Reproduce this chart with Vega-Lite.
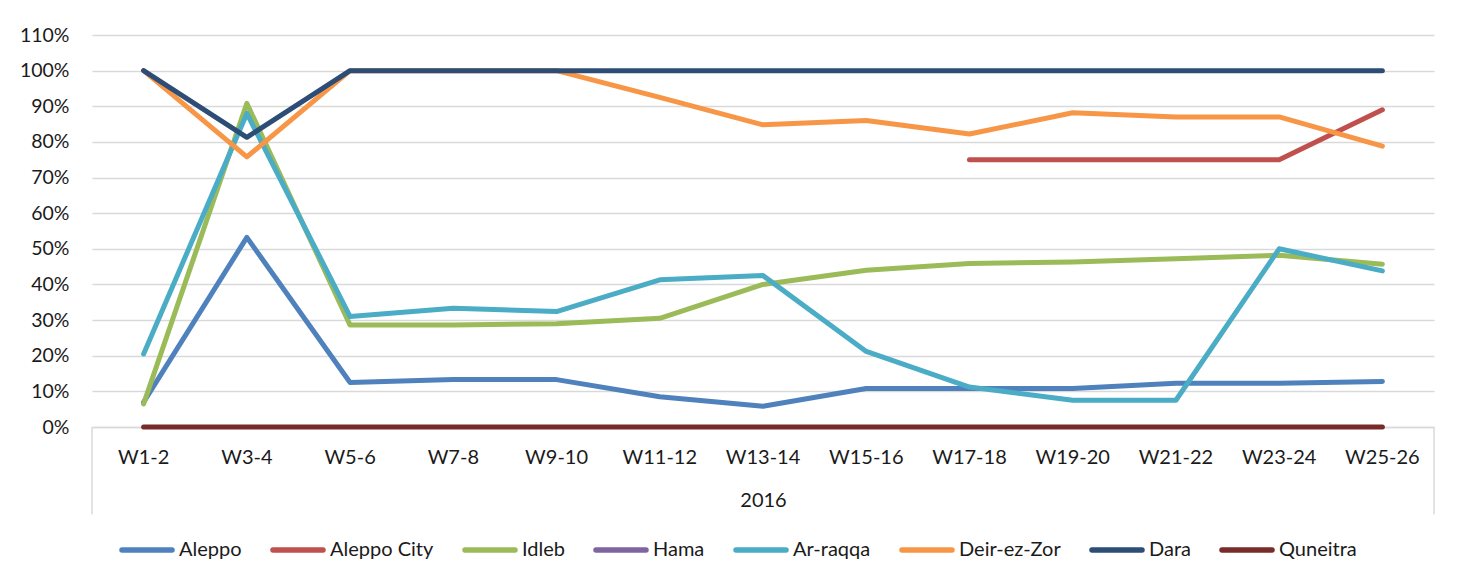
{
  "$schema": "https://vega.github.io/schema/vega-lite/v6.json",
  "autosize": "none",
  "width": 1342,
  "height": 392,
  "padding": {"left": 92, "top": 35, "right": 32, "bottom": 150},
  "background": "white",
  "config": {
    "font": "Lato",
    "view": {"stroke": null},
    "axis": {"labelFont": "Lato", "titleFont": "Lato", "labelColor": "#1a1a1a", "titleColor": "#1a1a1a"},
    "axisX": {"labelFontSize": 20, "titleFontSize": 20, "titleFontWeight": "normal", "labelPadding": 20, "titlePadding": 23, "ticks": false, "tickSize": 0, "domainColor": "#d9d9d9", "domainWidth": 1.5, "labelOverlap": false, "labelAngle": 0, "bandPosition": 0.5, "grid": false},
    "axisY": {"labelFontSize": 19.5, "labelPadding": 23, "ticks": false, "tickSize": 0, "domain": false, "gridColor": "#d9d9d9", "gridWidth": 1.5, "labelOverlap": false, "labelFlush": false, "tickCount": 12},
    "legend": {"labelFont": "Lato"}
  },
  "data": {"values": [
    {"w": "W1-2", "s": "Aleppo", "v": 0.07}, {"w": "W3-4", "s": "Aleppo", "v": 0.532}, {"w": "W5-6", "s": "Aleppo", "v": 0.125}, {"w": "W7-8", "s": "Aleppo", "v": 0.133}, {"w": "W9-10", "s": "Aleppo", "v": 0.133}, {"w": "W11-12", "s": "Aleppo", "v": 0.085}, {"w": "W13-14", "s": "Aleppo", "v": 0.058}, {"w": "W15-16", "s": "Aleppo", "v": 0.108}, {"w": "W17-18", "s": "Aleppo", "v": 0.108}, {"w": "W19-20", "s": "Aleppo", "v": 0.108}, {"w": "W21-22", "s": "Aleppo", "v": 0.123}, {"w": "W23-24", "s": "Aleppo", "v": 0.123}, {"w": "W25-26", "s": "Aleppo", "v": 0.128},
    {"w": "W17-18", "s": "Aleppo City", "v": 0.75}, {"w": "W19-20", "s": "Aleppo City", "v": 0.75}, {"w": "W21-22", "s": "Aleppo City", "v": 0.75}, {"w": "W23-24", "s": "Aleppo City", "v": 0.75}, {"w": "W25-26", "s": "Aleppo City", "v": 0.89},
    {"w": "W1-2", "s": "Idleb", "v": 0.065}, {"w": "W3-4", "s": "Idleb", "v": 0.908}, {"w": "W5-6", "s": "Idleb", "v": 0.286}, {"w": "W7-8", "s": "Idleb", "v": 0.286}, {"w": "W9-10", "s": "Idleb", "v": 0.29}, {"w": "W11-12", "s": "Idleb", "v": 0.305}, {"w": "W13-14", "s": "Idleb", "v": 0.4}, {"w": "W15-16", "s": "Idleb", "v": 0.44}, {"w": "W17-18", "s": "Idleb", "v": 0.459}, {"w": "W19-20", "s": "Idleb", "v": 0.463}, {"w": "W21-22", "s": "Idleb", "v": 0.472}, {"w": "W23-24", "s": "Idleb", "v": 0.482}, {"w": "W25-26", "s": "Idleb", "v": 0.457},
    {"w": "W1-2", "s": "Ar-raqqa", "v": 0.205}, {"w": "W3-4", "s": "Ar-raqqa", "v": 0.88}, {"w": "W5-6", "s": "Ar-raqqa", "v": 0.31}, {"w": "W7-8", "s": "Ar-raqqa", "v": 0.333}, {"w": "W9-10", "s": "Ar-raqqa", "v": 0.324}, {"w": "W11-12", "s": "Ar-raqqa", "v": 0.413}, {"w": "W13-14", "s": "Ar-raqqa", "v": 0.425}, {"w": "W15-16", "s": "Ar-raqqa", "v": 0.212}, {"w": "W17-18", "s": "Ar-raqqa", "v": 0.112}, {"w": "W19-20", "s": "Ar-raqqa", "v": 0.075}, {"w": "W21-22", "s": "Ar-raqqa", "v": 0.075}, {"w": "W23-24", "s": "Ar-raqqa", "v": 0.5}, {"w": "W25-26", "s": "Ar-raqqa", "v": 0.438},
    {"w": "W1-2", "s": "Deir-ez-Zor", "v": 1.0}, {"w": "W3-4", "s": "Deir-ez-Zor", "v": 0.758}, {"w": "W5-6", "s": "Deir-ez-Zor", "v": 1.0}, {"w": "W7-8", "s": "Deir-ez-Zor", "v": 1.0}, {"w": "W9-10", "s": "Deir-ez-Zor", "v": 1.0}, {"w": "W11-12", "s": "Deir-ez-Zor", "v": 0.925}, {"w": "W13-14", "s": "Deir-ez-Zor", "v": 0.848}, {"w": "W15-16", "s": "Deir-ez-Zor", "v": 0.86}, {"w": "W17-18", "s": "Deir-ez-Zor", "v": 0.822}, {"w": "W19-20", "s": "Deir-ez-Zor", "v": 0.882}, {"w": "W21-22", "s": "Deir-ez-Zor", "v": 0.87}, {"w": "W23-24", "s": "Deir-ez-Zor", "v": 0.87}, {"w": "W25-26", "s": "Deir-ez-Zor", "v": 0.788},
    {"w": "W1-2", "s": "Dara", "v": 1.0}, {"w": "W3-4", "s": "Dara", "v": 0.813}, {"w": "W5-6", "s": "Dara", "v": 1.0}, {"w": "W7-8", "s": "Dara", "v": 1.0}, {"w": "W9-10", "s": "Dara", "v": 1.0}, {"w": "W11-12", "s": "Dara", "v": 1.0}, {"w": "W13-14", "s": "Dara", "v": 1.0}, {"w": "W15-16", "s": "Dara", "v": 1.0}, {"w": "W17-18", "s": "Dara", "v": 1.0}, {"w": "W19-20", "s": "Dara", "v": 1.0}, {"w": "W21-22", "s": "Dara", "v": 1.0}, {"w": "W23-24", "s": "Dara", "v": 1.0}, {"w": "W25-26", "s": "Dara", "v": 1.0},
    {"w": "W1-2", "s": "Quneitra", "v": 0}, {"w": "W3-4", "s": "Quneitra", "v": 0}, {"w": "W5-6", "s": "Quneitra", "v": 0}, {"w": "W7-8", "s": "Quneitra", "v": 0}, {"w": "W9-10", "s": "Quneitra", "v": 0}, {"w": "W11-12", "s": "Quneitra", "v": 0}, {"w": "W13-14", "s": "Quneitra", "v": 0}, {"w": "W15-16", "s": "Quneitra", "v": 0}, {"w": "W17-18", "s": "Quneitra", "v": 0}, {"w": "W19-20", "s": "Quneitra", "v": 0}, {"w": "W21-22", "s": "Quneitra", "v": 0}, {"w": "W23-24", "s": "Quneitra", "v": 0}, {"w": "W25-26", "s": "Quneitra", "v": 0}
  ]},
  "layer": [
    {
      "mark": {"type": "line", "strokeWidth": 5, "strokeCap": "round", "strokeJoin": "round", "clip": false},
      "encoding": {
        "x": {
          "field": "w", "type": "ordinal",
          "scale": {"type": "band", "paddingInner": 0, "paddingOuter": 0, "domain": ["W1-2", "W3-4", "W5-6", "W7-8", "W9-10", "W11-12", "W13-14", "W15-16", "W17-18", "W19-20", "W21-22", "W23-24", "W25-26"]},
          "axis": {"title": "2016", "bandPosition": 0.5, "labelPadding": 20, "labelFontSize": 20}
        },
        "y": {
          "field": "v", "type": "quantitative",
          "scale": {"domain": [0, 1.1], "nice": false},
          "axis": {"title": null, "format": ".0%", "values": [0, 0.1, 0.2, 0.3, 0.4, 0.5, 0.6, 0.7, 0.8, 0.9, 1.0, 1.1], "tickCount": 12}
        },
        "color": {
          "field": "s", "type": "nominal",
          "scale": {
            "domain": ["Aleppo", "Aleppo City", "Idleb", "Hama", "Ar-raqqa", "Deir-ez-Zor", "Dara", "Quneitra"],
            "range": ["#4f81bd", "#c0504d", "#9bbb59", "#8064a2", "#4bacc6", "#f79646", "#2c4d75", "#772c2a"]
          },
          "legend": {
            "title": null, "orient": "none", "direction": "horizontal", "columns": 8, "legendX": 27, "legendY": 487,
            "symbolType": "stroke", "symbolSize": 2500, "symbolStrokeWidth": 5.5, "labelFontSize": 20, "labelColor": "#1a1a1a", "labelOffset": 4, "columnPadding": 20,
            "encode": {"symbols": {"update": {"strokeCap": {"value": "round"}}}}
          }
        }
      }
    },
    {
      "data": {"values": [{}]},
      "mark": {"type": "rule", "color": "#d9d9d9", "strokeWidth": 1.5, "clip": false},
      "encoding": {
        "x": {"datum": "W1-2", "type": "ordinal", "bandPosition": 0},
        "y": {"datum": 0, "type": "quantitative"},
        "y2": {"datum": -0.245}
      }
    },
    {
      "data": {"values": [{}]},
      "mark": {"type": "rule", "color": "#d9d9d9", "strokeWidth": 1.5, "clip": false},
      "encoding": {
        "x": {"datum": "W25-26", "type": "ordinal", "bandPosition": 1},
        "y": {"datum": 0, "type": "quantitative"},
        "y2": {"datum": -0.245}
      }
    }
  ]
}
